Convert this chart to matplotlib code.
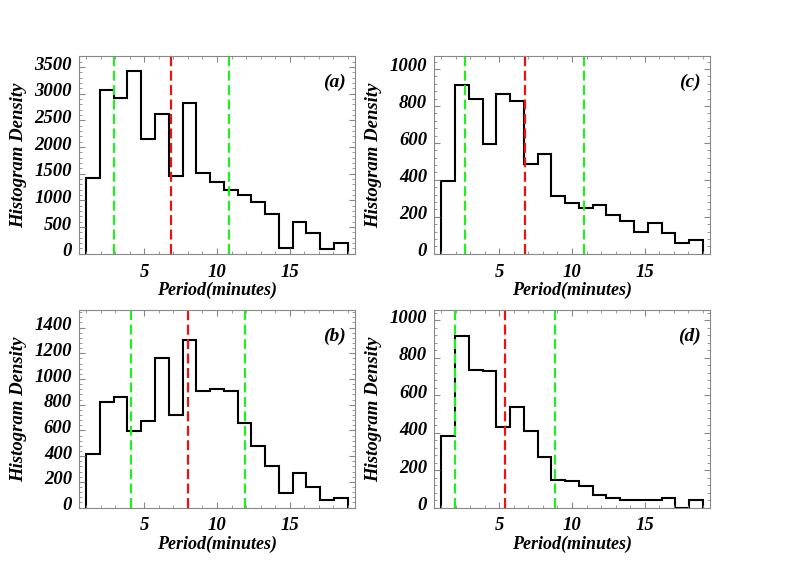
import numpy as np
import matplotlib
matplotlib.use("Agg")
import matplotlib.pyplot as plt
from matplotlib.ticker import MultipleLocator
from matplotlib.transforms import ScaledTranslation

plt.rcParams['font.family'] = ['Liberation Serif', 'DejaVu Serif']
plt.rcParams['font.weight'] = 'bold'
plt.rcParams['font.style'] = 'italic'
plt.rcParams['axes.labelweight'] = 'bold'

# bin edges (minutes): 19 bins from 1 to 19
edges = np.linspace(1, 19, 20)

# histogram values
hist_a = [1425, 3075, 2919, 3419, 2156, 2625, 1450, 2825, 1512, 1344,
          1188, 1094, 969, 750, 112, 594, 388, 94, 206]
hist_b = [415, 821, 860, 596, 674, 1163, 718, 1301, 904, 922,
          909, 661, 479, 321, 114, 269, 161, 62, 75]
hist_c = [395, 914, 835, 592, 867, 826, 488, 542, 311, 275,
          248, 264, 212, 180, 117, 165, 111, 59, 77]
hist_d = [380, 915, 735, 728, 433, 540, 407, 270, 146, 142,
          115, 66, 53, 43, 39, 39, 53, 0, 43]

# mean period and standard deviation (red / green dashed lines)
means = [6.86, 8.01, 6.74, 5.38]
sigmas = [3.94, 3.90, 4.10, 3.43]

panel_names = ['(a)', '(b)', '(c)', '(d)']
y_tops = [3700, 1535, 1068, 1055]
y_steps = [500, 200, 200, 200]
y_maxticks = [3500, 1400, 1000, 1000]

positions = [[0.10, 0.55, 0.35, 0.35],
             [0.10, 0.10, 0.35, 0.35],
             [0.55, 0.55, 0.35, 0.35],
             [0.55, 0.10, 0.35, 0.35]]

fig = plt.figure(figsize=(7.89, 5.64), dpi=100, facecolor='white')
shift_up = ScaledTranslation(0, 4 / 100, fig.dpi_scale_trans)

for i, hist in enumerate([hist_a, hist_b, hist_c, hist_d]):
    ax = fig.add_axes(positions[i])
    ax.stairs(hist, edges, baseline=0, color='black', linewidth=1.5)
    m, s = means[i], sigmas[i]
    dash = (0, (4.5, 2))
    ax.axvline(m, color='#ee1111', linestyle=dash, linewidth=1.6)
    ax.axvline(m - s, color='#22ee22', linestyle=dash, linewidth=1.6)
    ax.axvline(m + s, color='#22ee22', linestyle=dash, linewidth=1.6)

    ax.set_xlim(0.5, 19.5)
    ax.set_ylim(0, y_tops[i])
    ax.set_xticks([5, 10, 15])
    ax.xaxis.set_minor_locator(MultipleLocator(1))
    ax.set_yticks(np.arange(0, y_maxticks[i] + 1, y_steps[i]))
    ax.yaxis.set_minor_locator(MultipleLocator(y_steps[i] / 5))
    ax.tick_params(which='both', direction='in', top=True, right=True,
                   color='#888888', labelsize=13.5)
    ax.tick_params(which='major', length=4, width=0.8)
    ax.tick_params(which='minor', length=2.5, width=0.6)
    ax.tick_params(axis='x', pad=7)
    ax.tick_params(axis='y', pad=5)
    for sp in ax.spines.values():
        sp.set_color('#888888')
        sp.set_linewidth(0.8)
    for lab in ax.get_yticklabels():
        lab.set_transform(lab.get_transform() + shift_up)

    ax.set_xlabel('Period(minutes)', fontsize=13, labelpad=1)
    ax.set_ylabel('Histogram Density', fontsize=13.5, labelpad=5)
    ax.text(0.925, 0.87, panel_names[i], transform=ax.transAxes,
            ha='center', va='center', fontsize=14)

fig.savefig('out.png', dpi=100)
